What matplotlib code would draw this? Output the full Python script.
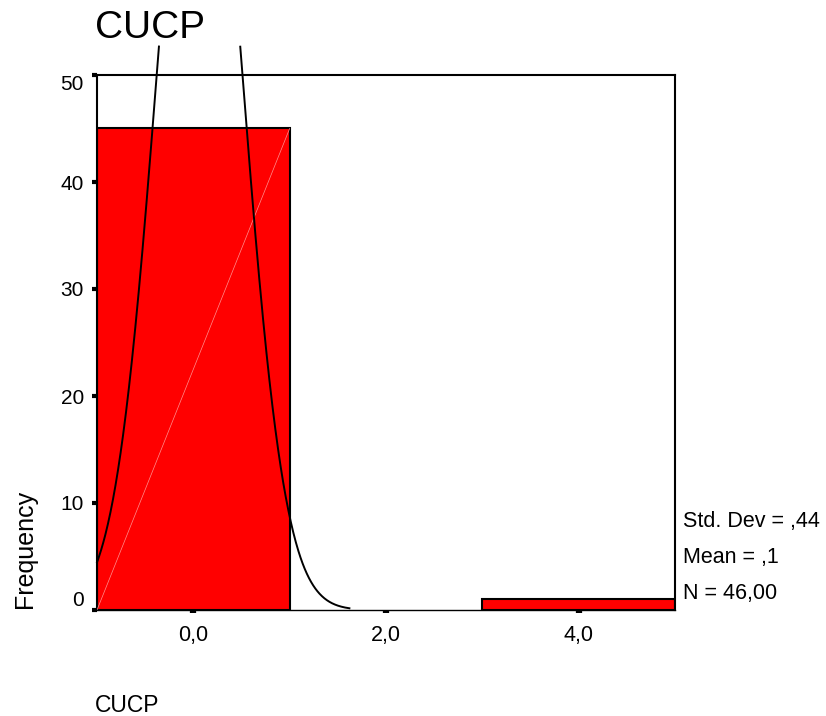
import matplotlib
matplotlib.use('Agg')
import matplotlib.pyplot as plt  # noqa: E402
import numpy as np  # noqa: E402

# histogram data
bin_left = [-1.0, 3.0]
bin_width = 2.0
counts = [45, 1]
x_ticks = [0, 2, 4]
x_tick_labels = ['0,0', '2,0', '4,0']
y_ticks = [0, 10, 20, 30, 40, 50]
stats_lines = ['Std. Dev = ,44', 'Mean = ,1', 'N = 46,00']

# normal curve parameters (45 zeros and one 3)
n_total = 46
mean = 0.065
std_dev = 0.44
curve_top = 52.8  # curve is cut off just above the frame

plt.rcParams['font.family'] = ['Liberation Sans', 'DejaVu Sans']

fig = plt.figure(figsize=(8.26, 7.16), dpi=100)
ax = fig.add_axes([97 / 826, 1 - 610 / 716, 578 / 826, 535 / 716])

ax.bar(bin_left, counts, width=bin_width, align='edge', color='#ff0000',
       edgecolor='black', linewidth=1.5, zorder=2)
# faint rendering streak across the big bar
ax.plot([bin_left[0], bin_left[0] + bin_width], [0, counts[0]],
        color='#ff9090', linewidth=0.5, zorder=3)

xs = np.linspace(-1.0, 1.62, 600)
ys = n_total * bin_width / (std_dev * np.sqrt(2 * np.pi)) * np.exp(-(xs - mean) ** 2 / (2 * std_dev ** 2))
ys[ys > curve_top] = np.nan
ax.plot(xs, ys, color='black', linewidth=1.4, clip_on=False, zorder=4)

ax.set_xlim(-1, 5)
ax.set_ylim(0, 50)
ax.set_xticks(x_ticks)
ax.set_xticklabels(x_tick_labels, fontsize=15.5)
ax.set_yticks(y_ticks)
ax.set_yticklabels([str(v) for v in y_ticks], fontsize=15)
ax.tick_params(axis='x', direction='out', length=2.5, width=4.5, pad=8)
ax.tick_params(axis='y', direction='out', length=3.5, width=3, pad=6)
labels = ax.get_yticklabels()
labels[0].set_va('bottom')
labels[-1].set_va('top')

for side in ['left', 'top', 'right']:
    ax.spines[side].set_linewidth(1.5)
ax.spines['bottom'].set_linewidth(1.0)

fig.text(95 / 826, 1 - 28 / 716, 'CUCP', fontsize=28, ha='left', va='center')
fig.text(95 / 826, 1 - 705 / 716, 'CUCP', fontsize=16.5, ha='left', va='center')
fig.text(25 / 826, 1 - 549 / 716, 'Frequency', fontsize=18, rotation=90,
         ha='center', va='center')

for i, line in enumerate(stats_lines):
    fig.text(683 / 826, 1 - (521 + 36.5 * i) / 716, line, fontsize=15.5,
             ha='left', va='center')

plt.savefig('out.png')
plt.close()
